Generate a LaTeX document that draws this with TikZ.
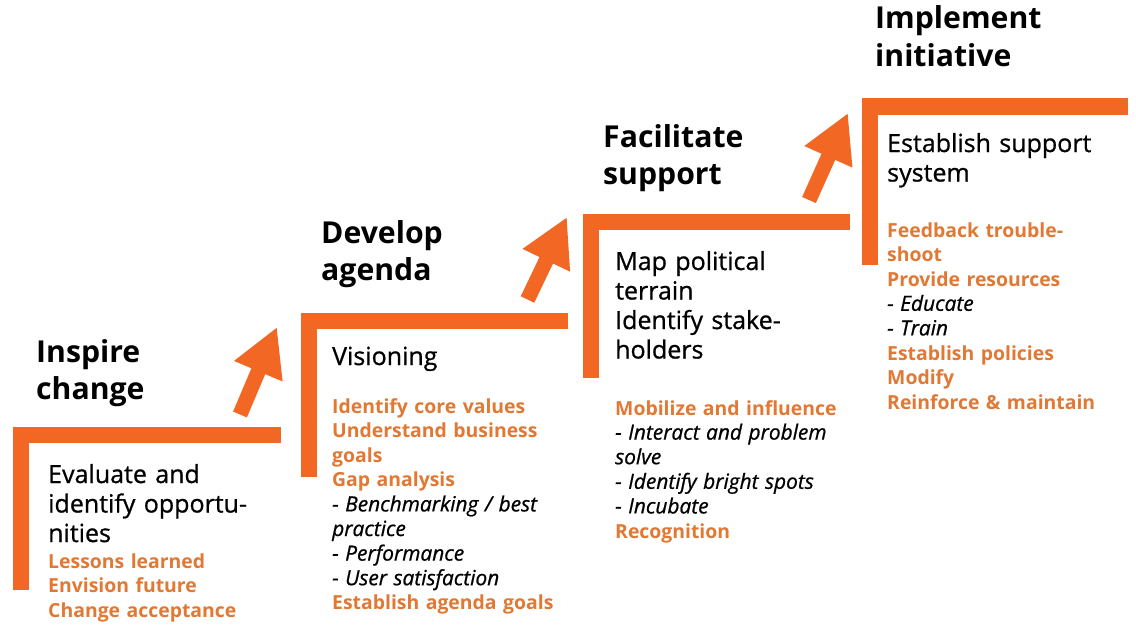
\documentclass[tikz,border=0pt]{standalone}
\usepackage{fontspec}
\setmainfont{Open Sans}
\newfontfamily\medfont{Open Sans}[FakeBold=0.8]
\usetikzlibrary{arrows.meta}
\definecolor{barorange}{HTML}{F26724}
\definecolor{txtorange}{HTML}{E17833}
\newcommand{\hl}[1]{{\color{txtorange}\bfseries #1}}
\newcommand{\subitm}[1]{{\medfont\fontsize{20.9}{24.6}\selectfont\itshape #1}}
\tikzset{
  stepbar/.style={barorange, line width=16pt, line join=miter, line cap=butt},
  uparrow/.style={barorange, line width=15pt, -{Triangle[width=49pt,length=48pt]}},
  title/.style={anchor=base west, inner sep=0pt, text width=260pt, align=left, font=\fontsize{30.2}{37.5}\selectfont\bfseries},
  body/.style={anchor=base west, inner sep=0pt, text width=260pt, align=left, font=\medfont\fontsize{25}{29.5}\selectfont},
  tasks/.style={anchor=base west, inner sep=0pt, text width=260pt, align=left, font=\fontsize{19.4}{24.6}\selectfont},
}
\begin{document}
\begin{tikzpicture}[x=1pt,y=-1pt]
  \useasboundingbox (0,0) rectangle (1136,626);
  %Steps
  \draw[stepbar] (20.5,590) |- (281,435);
  \draw[stepbar] (308.5,477) |- (568,320.5);
  \draw[stepbar] (591,378) |- (850,222);
  \draw[stepbar] (869.5,265) |- (1128,106.5);
  %Arrows
  \coordinate (a1s) at (240,414.5); \coordinate (a1e) at (277,327);
  \coordinate (a2s) at (527.5,299.5); \coordinate (a2e) at (567,217);
  \coordinate (a3s) at (809,200); \coordinate (a3e) at (848,113);
  \draw[uparrow] (a1s) -- (a1e);
  \draw[uparrow] (a2s) -- (a2e);
  \draw[uparrow] (a3s) -- (a3e);
  %Step 1
  \node[title] (t1) at (36,362) {Inspire\\change};
  \node[body] (b1) at (48,483) {Evaluate and\\identify opportu-\\nities};
  \node[tasks] (l1) at (48,568) {\hl{Lessons learned}\\\hl{Envision future}\\\hl{Change acceptance}};
  %Step 2
  \node[title] (t2) at (321,243) {Develop\\agenda};
  \node[body] (b2) at (332,365) {Visioning};
  \node[tasks] (l2) at (332,413) {\hl{Identify core values}\\\hl{Understand business}\\\hl{goals}\\\hl{Gap analysis}\\\subitm{- Benchmarking / best}\\\subitm{practice}\\\subitm{- Performance}\\\subitm{- User satisfaction}\\\hl{Establish agenda goals}};
  %Step 3
  \node[title] (t3) at (603,147) {Facilitate\\support};
  \node[body] (b3) at (615,270) {Map political\\terrain\\Identify stake-\\holders};
  \node[tasks] (l3) at (615,415) {\hl{Mobilize and influence}\\\subitm{- Interact and problem}\\\subitm{solve}\\\subitm{- Identify bright spots}\\\subitm{- Incubate}\\\hl{Recognition}};
  %Step 4
  \node[title] (t4) at (875,29) {Implement\\initiative};
  \node[body] (b4) at (887,152) {Establish support\\system};
  \node[tasks] (l4) at (887,237) {\hl{Feedback trouble-}\\\hl{shoot}\\\hl{Provide resources}\\\subitm{- Educate}\\\subitm{- Train}\\\hl{Establish policies}\\\hl{Modify}\\\hl{Reinforce \& maintain}};
\end{tikzpicture}
\end{document}
